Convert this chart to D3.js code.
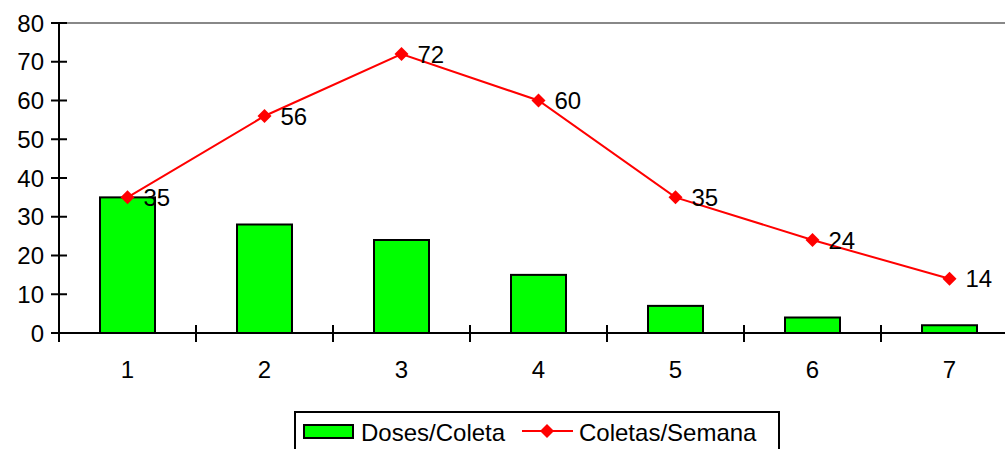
<!DOCTYPE html>
<html lang="pt">
<head>
  <meta charset="UTF-8">
  <title>Doses/Coleta e Coletas/Semana</title>
  <script src="https://d3js.org/d3.v7.min.js"></script>
  <style>
    body { margin: 0; background: #fff; }
    svg { display: block; font-family: "Liberation Sans", Arial, sans-serif; }
  </style>
</head>
<body>
  <svg width="1005" height="449"></svg>

  <script>
    // dados
    const categorias = ["1", "2", "3", "4", "5", "6", "7"];
    const dosesColeta = [35, 28, 24, 15, 7, 4, 2];
    const coletasSemana = [35, 56, 72, 60, 35, 24, 14];
    const yTicks = [0, 10, 20, 30, 40, 50, 60, 70, 80];

    const svg = d3.select("svg");
    const mLeft = 59, mRight = 1018, mTop = 23, mBottom = 333;
    const fs = 24;

    const x = d3.scaleBand().domain(categorias).range([mLeft, mRight]);
    const y = d3.scaleLinear().domain([0, 80]).range([mBottom, mTop]);
    const cx = d => x(d) + x.bandwidth() / 2;

    // borda superior cinza
    svg.append("line")
      .attr("x1", mLeft).attr("x2", 1005)
      .attr("y1", y(80)).attr("y2", y(80))
      .attr("stroke", "#888").attr("stroke-width", 2);

    // barras
    const barW = 55;
    svg.selectAll("rect.bar")
      .data(dosesColeta)
      .join("rect")
      .attr("class", "bar")
      .attr("x", (d, i) => cx(categorias[i]) - barW / 2)
      .attr("y", d => y(d))
      .attr("width", barW)
      .attr("height", d => y(0) - y(d))
      .attr("fill", "#00ff00")
      .attr("stroke", "#000")
      .attr("stroke-width", 2);

    // eixo y
    const gy = svg.append("g").attr("transform", `translate(${mLeft},0)`);
    gy.append("line").attr("x1", 0).attr("x2", 0)
      .attr("y1", y(80)).attr("y2", y(0) + 9)
      .attr("stroke", "#000").attr("stroke-width", 2);
    yTicks.forEach(t => {
      gy.append("line").attr("x1", -8).attr("x2", 8)
        .attr("y1", y(t)).attr("y2", y(t))
        .attr("stroke", "#000").attr("stroke-width", 2);
      gy.append("text").attr("x", -15).attr("y", y(t))
        .attr("dy", "0.36em").attr("text-anchor", "end")
        .attr("font-size", fs).text(t);
    });

    // eixo x
    const gx = svg.append("g");
    gx.append("line").attr("x1", mLeft).attr("x2", 1005)
      .attr("y1", y(0)).attr("y2", y(0))
      .attr("stroke", "#000").attr("stroke-width", 2);
    categorias.forEach((c, i) => {
      if (i > 0) {
        gx.append("line").attr("x1", x(c)).attr("x2", x(c))
          .attr("y1", y(0) - 8).attr("y2", y(0) + 9)
          .attr("stroke", "#000").attr("stroke-width", 2);
      }
      gx.append("text").attr("x", cx(c)).attr("y", 378)
        .attr("text-anchor", "middle").attr("font-size", fs).text(c);
    });

    // linha
    const line = d3.line()
      .x((d, i) => cx(categorias[i]))
      .y(d => y(d));
    svg.append("path")
      .datum(coletasSemana)
      .attr("d", line)
      .attr("fill", "none")
      .attr("stroke", "#ff0000")
      .attr("stroke-width", 2);

    // losango = quadrado girado 45°
    const diamond = d3.symbol().type(d3.symbolSquare).size(98);
    svg.selectAll("path.mk")
      .data(coletasSemana)
      .join("path")
      .attr("class", "mk")
      .attr("d", diamond)
      .attr("transform", (d, i) => `translate(${cx(categorias[i])},${y(d)}) rotate(45)`)
      .attr("fill", "#ff0000");

    svg.selectAll("text.lbl")
      .data(coletasSemana)
      .join("text")
      .attr("class", "lbl")
      .attr("x", (d, i) => cx(categorias[i]) + 16)
      .attr("y", d => y(d))
      .attr("dy", "0.36em")
      .attr("font-size", fs)
      .text(d => d);

    // legenda
    const lg = svg.append("g");
    lg.append("rect").attr("x", 295).attr("y", 412)
      .attr("width", 484).attr("height", 45)
      .attr("fill", "#fff").attr("stroke", "#000").attr("stroke-width", 2);
    lg.append("rect").attr("x", 304).attr("y", 425)
      .attr("width", 49).attr("height", 13)
      .attr("fill", "#00ff00").attr("stroke", "#000").attr("stroke-width", 2);
    lg.append("text").attr("x", 361).attr("y", 432).attr("dy", "0.36em")
      .attr("font-size", fs).text("Doses/Coleta");
    lg.append("line").attr("x1", 522).attr("x2", 573)
      .attr("y1", 431).attr("y2", 431)
      .attr("stroke", "#ff0000").attr("stroke-width", 2);
    lg.append("path").attr("d", diamond)
      .attr("transform", "translate(547,431) rotate(45)").attr("fill", "#ff0000");
    lg.append("text").attr("x", 579).attr("y", 432).attr("dy", "0.36em")
      .attr("font-size", fs).text("Coletas/Semana");
  </script>
</body>
</html>
